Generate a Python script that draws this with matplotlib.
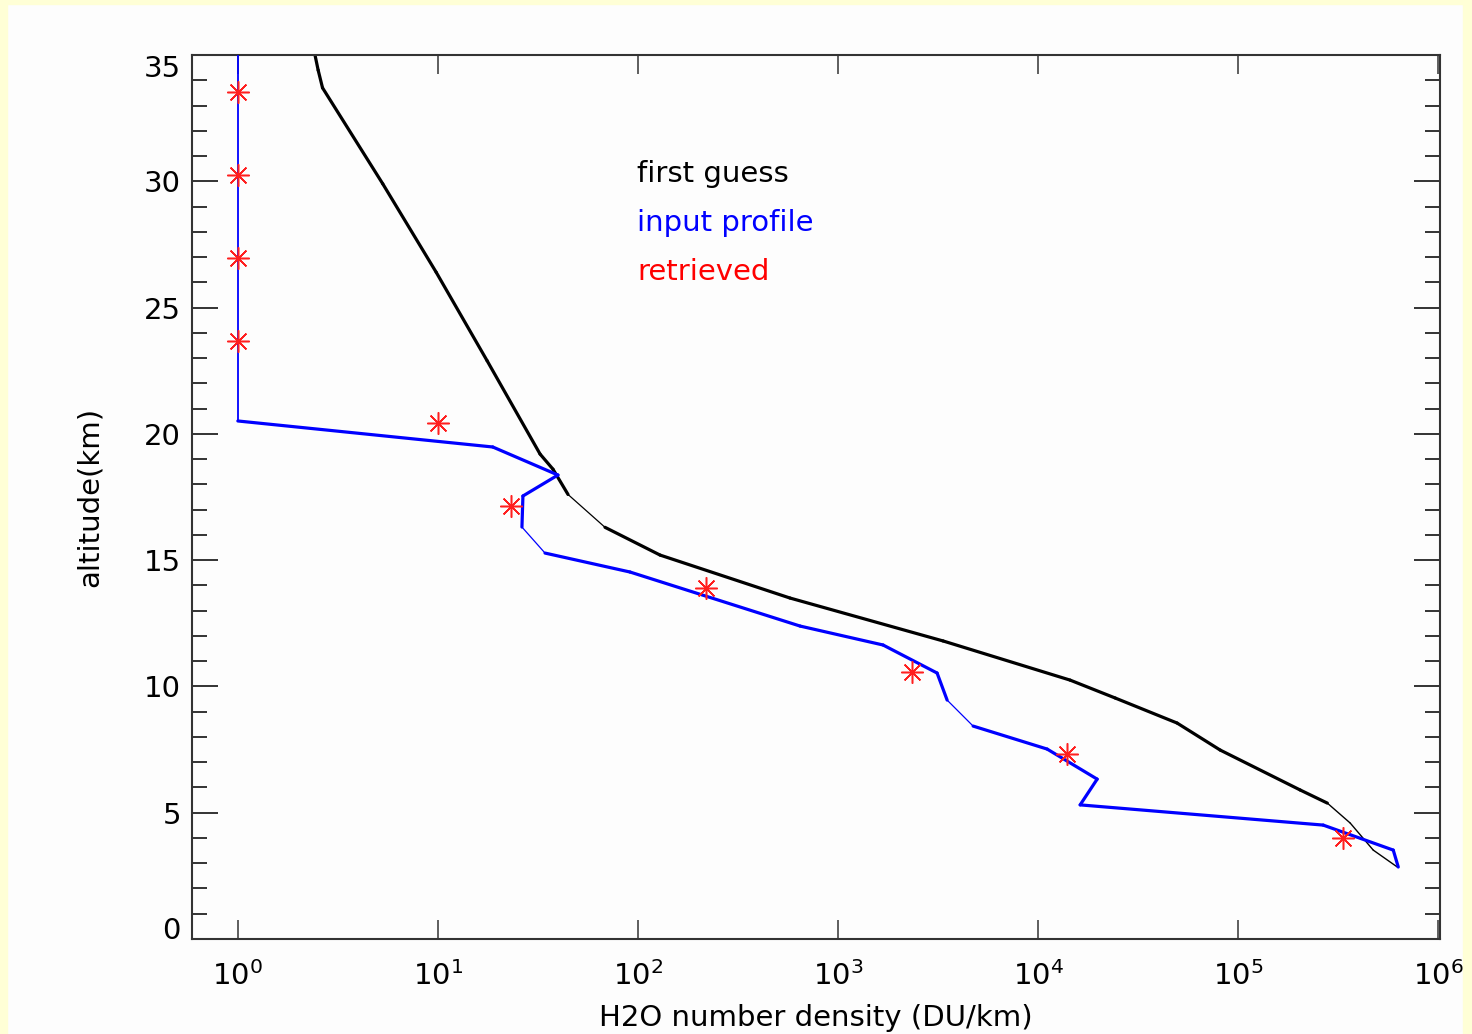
import numpy as np
import matplotlib
matplotlib.use("Agg")
import matplotlib.pyplot as plt
from matplotlib.patches import Rectangle

# first guess profile (DU/km, km)
guess_x = [2.43, 2.52, 2.65, 5.3, 9.8, 17.6, 32.4, 37.6, 44.7, 68.4, 129, 575,
           3350, 14450, 24300, 49500, 81300, 204000, 279000, 363000, 473000, 624000]
guess_z = [35.0, 34.4, 33.7, 29.9, 26.4, 22.9, 19.2, 18.6, 17.6, 16.3, 15.2, 13.5,
           11.8, 10.25, 9.54, 8.55, 7.48, 5.90, 5.38, 4.59, 3.52, 2.85]

# input profile
input_x = [1.0, 1.0, 18.8, 39.8, 26.6, 26.3, 34.3, 91.2, 646, 1679, 3126, 3508,
           4732, 11092, 19724, 16218, 266000, 595600, 631000]
input_z = [35.0, 20.51, 19.48, 18.37, 17.54, 16.31, 15.28, 14.53, 12.39, 11.64,
           10.53, 9.46, 8.43, 7.52, 6.33, 5.31, 4.51, 3.52, 2.85]

# retrieved values
ret_x = [1.0, 1.0, 1.0, 1.0, 10.0, 23.2, 219, 2344, 13960, 335000]
ret_z = [33.54, 30.25, 26.96, 23.68, 20.43, 17.15, 13.90, 10.57, 7.32, 4.00]

# segment widths (thin bits like the original raster)
guess_lw = [2.3] * (len(guess_x) - 1)
guess_lw[8] = 0.9
for i in range(18, len(guess_lw)):
    guess_lw[i] = 1.0
input_lw = [2.3] * (len(input_x) - 1)
input_lw[0] = 1.3
input_lw[5] = 0.9
input_lw[11] = 0.9

plt.rcParams['font.family'] = ['DejaVu Sans']
fig = plt.figure(figsize=(14.72, 10.34), dpi=100, facecolor='#FDFDFD')
ax = fig.add_axes([192/1472, 1 - 939/1034, 1248/1472, 884/1034])
ax.set_facecolor('#FDFDFD')

for i in range(len(guess_x) - 1):
    ax.plot(guess_x[i:i+2], guess_z[i:i+2], color='black', lw=guess_lw[i],
            solid_capstyle='round', zorder=2)
for i in range(len(input_x) - 1):
    ax.plot(input_x[i:i+2], input_z[i:i+2], color='#0000FF', lw=input_lw[i],
            solid_capstyle='round', zorder=3)
ax.plot(ret_x, ret_z, linestyle='none', marker=(8, 2, 0), markersize=16,
        markeredgecolor='#FF2020', markeredgewidth=1.1, zorder=4)

ax.set_xscale('log')
ax.set_xlim(0.59, 1.02e6)
ax.set_ylim(0, 35)
ax.set_xticks([1, 10, 100, 1e3, 1e4, 1e5, 1e6])
ax.xaxis.set_minor_locator(matplotlib.ticker.NullLocator())
ax.set_yticks(np.arange(0, 36, 5))
ax.set_yticks(np.arange(0, 36, 1), minor=True)

for s in ax.spines.values():
    s.set_color('#333333')
    s.set_linewidth(1.5)
ax.tick_params(axis='x', which='major', direction='in', length=14, width=1.1,
               top=True, color='#333333', labelsize=21, pad=16)
ax.tick_params(axis='y', which='major', direction='in', length=19, width=1.4,
               right=True, color='#333333', labelsize=21, pad=8)
ax.tick_params(axis='y', which='minor', direction='in', length=11, width=1.4,
               right=True, color='#333333')

ylabels = ax.get_yticklabels()
ylabels[0].set_va('baseline')
ylabels[-1].set_va('top')

ax.set_xlabel('H2O number density (DU/km)', fontsize=21, labelpad=9)
ax.set_ylabel('altitude(km)', fontsize=21, labelpad=29)

ax.text(0.3566, 0.8563, 'first guess', color='black', fontsize=21,
        transform=ax.transAxes, va='baseline')
ax.text(0.3566, 0.8009, 'input profile', color='#0000FF', fontsize=21,
        transform=ax.transAxes, va='baseline')
ax.text(0.3566, 0.7455, 'retrieved', color='#FF0000', fontsize=21,
        transform=ax.transAxes, va='baseline')

# yellow frame around the picture
yel = '#FFFFD6'
fig.patches.append(Rectangle((0, 0), 7/1472, 1, transform=fig.transFigure, color=yel, zorder=5))
fig.patches.append(Rectangle((1463/1472, 0), 1, 1, transform=fig.transFigure, color=yel, zorder=5))
fig.patches.append(Rectangle((0, 1 - 4/1034), 1, 1, transform=fig.transFigure, color=yel, zorder=5))

fig.savefig('out.png', dpi=100, facecolor=fig.get_facecolor())
